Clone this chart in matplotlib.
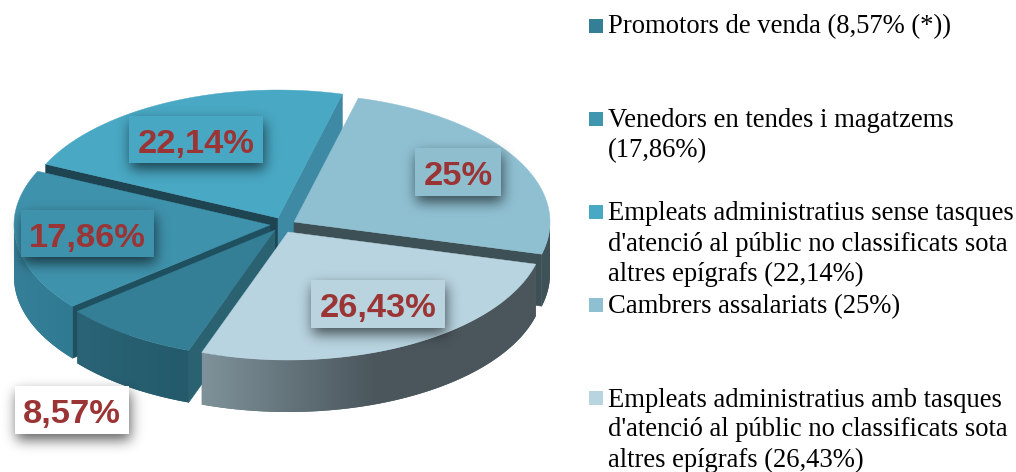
import math
import numpy as np
import matplotlib
matplotlib.use("Agg")
import matplotlib.pyplot as plt
from matplotlib.patches import Rectangle, Polygon
from matplotlib.colors import to_rgb

# ---------- data ----------
values = [8.57, 17.86, 22.14, 25.0, 26.43]
value_labels = ["8,57%", "17,86%", "22,14%", "25%", "26,43%"]
legend_lines = [
    ["Promotors de venda (8,57% (*))"],
    ["Venedors en tendes i magatzems", "(17,86%)"],
    ["Empleats administratius sense tasques",
     "d'atenció al públic no classificats sota",
     "altres epígrafs (22,14%)"],
    ["Cambrers assalariats (25%)"],
    ["Empleats administratius amb tasques",
     "d'atenció al públic no classificats sota",
     "altres epígrafs (26,43%)"],
]

# ---------- layout and style (pixels of the 1016x472 picture) ----------
first_edge_deg = 199.7          # clockwise from the top
rx, ry, depth = 256, 128, 52
apex = [(275, 230), (270, 225), (278, 218), (294, 222), (288, 232)]
top_col = ["#347f96", "#3f92ac", "#49a8c4", "#8fc0d2", "#b8d4e0"]
start_wall = ["#2a6272", "#1f5060", "#1d4450", "#3d5056", "#4a565c"]
end_wall = ["#2a6272", "#377f98", "#3e89a3", "#3d5056", "#4a565c"]
# outer wall colour at its left end, at its right end, and where the blend stops
outer_left = ["#2a6476", "#367f98", "#3b8ba5", "#3f5258", "#7f929a"]
outer_right = ["#245a6b", "#2f7a92", "#3b8ba5", "#3f5258", "#4a565c"]
outer_stop = [1.0, 1.0, 1.0, 1.0, 0.52]
label_boxes = [(15, 386, 129, 434), (21, 210, 154, 257), (129, 116, 263, 163),
               (415, 148, 501, 196), (311, 280, 445, 328)]
box_col = ["#ffffff", "#3f92ac", "#48a8c4", "#8fbecf", "#bad4df"]
label_col = "#9b3535"
legend_squares_y = [19, 112, 205, 298, 391]
legend_square_col = ["#347f96", "#4096ae", "#49a8c4", "#8fc0d2", "#b8d4e0"]
legend_baselines = [[33], [127, 157], [220, 251, 281], [313], [407, 436, 467]]

W, H = 1016, 472
fig = plt.figure(figsize=(W / 100, H / 100), dpi=100, facecolor="white")
ax = fig.add_axes([0, 0, 1, 1])
ax.axis("off")


def pt(i, th):
    """Point on the rim of slice i at clockwise angle th (degrees from top)."""
    t = np.radians(th)
    return apex[i][0] + rx * np.sin(t), apex[i][1] - ry * np.cos(t)


def gradient_wall(i, xs, ys, zorder):
    x0, x1 = xs.min(), xs.max()
    y0, y1 = ys.min(), ys.max()
    n = max(int(x1 - x0), 2)
    f = np.clip(np.linspace(0, 1, n) / outer_stop[i], 0, 1)
    a, b = np.array(to_rgb(outer_left[i])), np.array(to_rgb(outer_right[i]))
    row = a[None, :] + (b - a)[None, :] * f[:, None]
    # a plain fill underneath keeps the curved edge smooth
    mean = tuple(row.mean(axis=0))
    poly = Polygon(np.c_[xs, ys], closed=True, fc=mean, ec="none", zorder=zorder)
    ax.add_patch(poly)
    clip = Polygon(np.c_[xs, ys], closed=True, transform=ax.transData)
    im = ax.imshow(row[None, :, :], extent=(x0, x1, y1, y0), aspect="auto",
                   zorder=zorder, interpolation="bilinear")
    im.set_clip_path(clip)


# slice angles come from the values
shares = np.array(values) / sum(values) * 360
starts = first_edge_deg + np.concatenate([[0], np.cumsum(shares)[:-1]])
ends = starts + shares
mids = (starts + ends) / 2
order = np.argsort(-np.cos(np.radians(mids)))

z = 2.0
for i in order:
    s, e = starts[i], ends[i]
    ax_, ay_ = apex[i]
    # radial walls that face the viewer
    for th, col, side in ((s, start_wall[i], -1), (e, end_wall[i], 1)):
        t = np.radians(th)
        if side * np.sin(t) > 0:
            x1, y1 = pt(i, th)
            ax.fill([ax_, x1, x1, ax_], [ay_, y1, y1 + depth, ay_ + depth],
                    color=col, lw=0.4, zorder=z)
            z += 0.01
    # outer wall, visible on the lower half of the rim
    for shift in (-360, 0, 360):
        a, b = max(s + shift, 90), min(e + shift, 270)
        if b > a:
            ths = np.linspace(a, b, 200)
            xs, ys = pt(i, ths)
            gradient_wall(i, np.r_[xs, xs[::-1]], np.r_[ys, (ys + depth)[::-1]], z)
            z += 0.01
            break
    # top face
    th = np.linspace(s, e, 200)
    xs, ys = pt(i, th)
    ax.fill(np.r_[ax_, xs], np.r_[ay_, ys], color=top_col[i], lw=0.3, zorder=z)
    z += 0.01


def soft_shadow(box, zorder, sigma=6.5, dx=1.5, dy=6.0, strength=0.62):
    x0, y0, x1, y1 = box
    pad = 28
    xs = np.arange(x0 - pad, x1 + pad + 1) + 0.5
    ys = np.arange(y0 - pad, y1 + pad + 10) + 0.5
    erf = np.vectorize(math.erf)
    k = sigma * math.sqrt(2)
    gx = 0.5 * (erf((xs - x0 - dx) / k) - erf((xs - x1 - dx) / k))
    gy = 0.5 * (erf((ys - y0 - dy) / k) - erf((ys - y1 - dy) / k))
    img = np.zeros((len(ys), len(xs), 4))
    img[..., 3] = np.outer(gy, gx) * strength
    ax.imshow(img, extent=(xs[0] - .5, xs[-1] + .5, ys[-1] + .5, ys[0] - .5),
              aspect="auto", zorder=zorder, interpolation="bilinear")


for i, box in enumerate(label_boxes):
    x0, y0, x1, y1 = box
    soft_shadow(box, 5)
    ax.add_patch(Rectangle((x0, y0), x1 - x0, y1 - y0, fc=box_col[i], ec="none", zorder=6))
    ax.text((x0 + x1) / 2, (y0 + y1) / 2 + 1, value_labels[i], ha="center", va="center_baseline",
            family="Liberation Sans", weight="bold", fontsize=24.8, color=label_col, zorder=7)

for i, lines in enumerate(legend_lines):
    ax.add_patch(Rectangle((589, legend_squares_y[i]), 14, 14, fc=legend_square_col[i], ec="none", zorder=6))
    for line, base in zip(lines, legend_baselines[i]):
        ax.text(608, base, line, ha="left", va="baseline", family="Liberation Serif",
                fontsize=19.2, color="#000000", zorder=7)

ax.set_xlim(0, W)
ax.set_ylim(H, 0)
fig.savefig("out.png", dpi=100, facecolor="white")
